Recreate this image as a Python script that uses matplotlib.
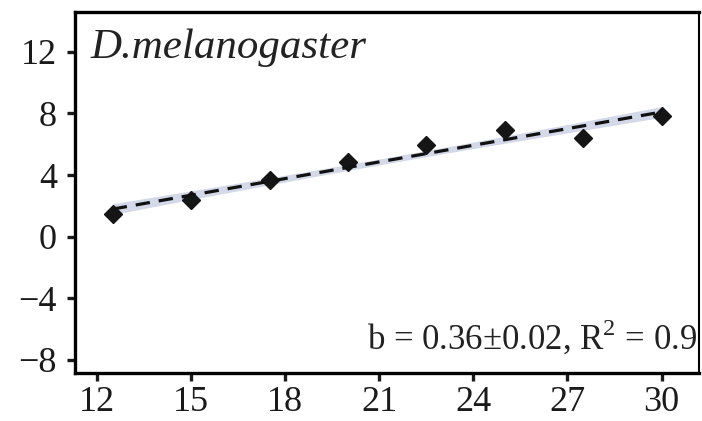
import numpy as np
import matplotlib
matplotlib.use('Agg')
import matplotlib.pyplot as plt

# Temperature vs. response for D. melanogaster
temp = [12.5, 15.0, 17.5, 20.0, 22.5, 25.0, 27.5, 30.0]
resp = [1.45, 2.4, 3.7, 4.85, 5.95, 6.95, 6.4, 7.85]

SLOPE = 0.36
SLOPE_ERR = 0.02
R2 = 0.9
SPECIES = 'D.melanogaster'

xticks = [12, 15, 18, 21, 24, 27, 30]
yticks = [-8, -4, 0, 4, 8, 12]

plt.rcParams['font.family'] = ['Liberation Serif', 'DejaVu Serif']
plt.rcParams['mathtext.fontset'] = 'custom'
plt.rcParams['mathtext.rm'] = 'Liberation Serif'

x = np.array(temp)
y = np.array(resp)
xm, ym = x.mean(), y.mean()

# fitted line with the reported slope, plus a 1-SE band around it
xf = np.linspace(x.min(), x.max(), 100)
yf = ym + SLOPE * (xf - xm)
resid = y - (ym + SLOPE * (x - xm))
s = np.sqrt((resid ** 2).sum() / (len(x) - 2))
se = s * np.sqrt(1 / len(x) + (xf - xm) ** 2 / ((x - xm) ** 2).sum())

fig = plt.figure(figsize=(7.02, 4.21), dpi=100)
ax = fig.add_axes([0.107, 0.114, 0.889, 0.858])

ax.fill_between(xf, yf - se, yf + se, color='#d3d9e8', lw=0, zorder=1)
ax.plot(x, y, 'D', color='#151515', ms=9, zorder=2)
ax.plot(xf, yf, color='#111111', lw=2.3, dashes=(4.5, 2.8), zorder=3)

ax.set_xlim(11.3, 31.2)
ax.set_ylim(-8.85, 14.6)
ax.set_xticks(xticks)
ax.set_yticks(yticks)
ax.set_yticklabels([str(v).replace('-', '\u2212') for v in yticks])

for side in ['left', 'bottom', 'top']:
    ax.spines[side].set_linewidth(2.4)
ax.spines['right'].set_linewidth(1.5)
ax.tick_params(direction='out', length=6, width=2.4, labelsize=26,
               colors='#1a1a1a')
ax.tick_params(axis='x', pad=3)
ax.tick_params(axis='y', pad=7)

ax.text(0.025, 0.955, SPECIES, transform=ax.transAxes, fontsize=31,
        style='italic', ha='left', va='top', color='#222222')
ax.text(0.996, 0.042,
        f'b = {SLOPE:.2f}\u00b1{SLOPE_ERR:.2f}, R$^\\mathrm{{2}}$ = {R2:.1f}',
        transform=ax.transAxes, fontsize=25, ha='right', va='bottom',
        color='#222222')

fig.savefig('out.png', dpi=100)
